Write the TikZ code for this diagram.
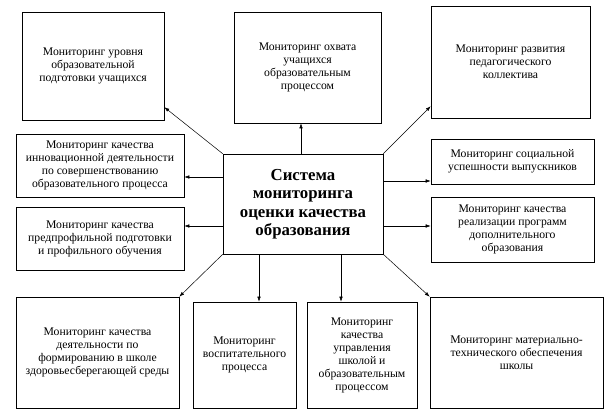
\documentclass[tikz,border=0pt]{standalone}
\usepackage{fontspec}
\setmainfont{Liberation Serif}
\usetikzlibrary{arrows.meta}

\begin{document}
\begin{tikzpicture}[
            x=1pt, y=-1pt,
            block/.style={rectangle, draw, line width=0.6pt, align=center, inner sep=2pt, font=\fontsize{11.7}{13}\selectfont},
            mainblock/.style={rectangle, draw, line width=0.6pt, align=center, font=\fontsize{16.8}{18.5}\selectfont\bfseries},
            arrow/.style={-{Latex[length=5pt,width=3.5pt]}, line width=0.5pt}
        ]
        \useasboundingbox (0,0) rectangle (609,412);
        \node[mainblock, minimum width=160pt, minimum height=100pt] (system) at (303,204) {Система\\мониторинга\\оценки качества\\образования};
        \node[block, minimum width=142pt, minimum height=108pt] (level) at (93,66) {Мониторинг уровня\\образовательной\\подготовки учащихся};
        \node[block, minimum width=147pt, minimum height=111pt] (coverage) at (307.5,67.5) {Мониторинг охвата\\учащихся\\образовательным\\процессом};
        \node[block, minimum width=159pt, minimum height=112pt] (staff) at (510.5,62) {Мониторинг развития\\педагогического\\коллектива};
        \node[block, minimum width=168pt, minimum height=63pt] (innov) at (100,165.5) {Мониторинг качества\\инновационной деятельности\\по совершенствованию\\образовательного процесса};
        \node[block, minimum width=168pt, minimum height=63pt] (profile) at (100,238.5) {Мониторинг качества\\предпрофильной подготовки\\и профильного обучения};
        \node[block, minimum width=163pt, minimum height=45pt] (graduates) at (512.5,161.5) {Мониторинг социальной\\успешности выпускников};
        \node[block, minimum width=163pt, minimum height=65pt] (extra) at (512.5,229.5) {Мониторинг качества\\реализации программ\\дополнительного\\образования};
        \node[block, minimum width=163pt, minimum height=111pt] (health) at (97.5,352.5) {Мониторинг качества\\деятельности по\\формированию в школе\\здоровьесберегающей среды};
        \node[block, minimum width=103pt, minimum height=106pt] (upbringing) at (244.5,355) {Мониторинг\\воспитательного\\процесса};
        \node[block, minimum width=110pt, minimum height=106pt] (management) at (362,355) {Мониторинг\\качества\\управления\\школой и\\образовательным\\процессом};
        \node[block, minimum width=173pt, minimum height=111pt] (material) at (516.5,352.5) {Мониторинг материально-\\технического обеспечения\\школы};
        \draw[arrow] (system.north west) -- (level.-30);
        \draw[arrow] ([xshift=-2pt]system.north) -- ([xshift=-2pt]system.north |- coverage.south);
        \draw[arrow] (system.north east) -- (staff.-151);
        \draw[arrow] ([yshift=27pt]system.west) -- ([yshift=27pt]system.west -| innov.east);
        \draw[arrow] ([yshift=-22pt]system.west) -- ([yshift=-22pt]system.west -| profile.east);
        \draw[arrow] ([yshift=23pt]system.east) -- ([yshift=23pt]system.east -| graduates.west);
        \draw[arrow] ([yshift=-22pt]system.east) -- ([yshift=-22pt]system.east -| extra.west);
        \draw[arrow] (system.south west) -- (health.north east);
        \draw[arrow] ([xshift=-44pt]system.south) -- ([xshift=-44pt]system.south |- upbringing.north);
        \draw[arrow] ([xshift=38pt]system.south) -- ([xshift=38pt]system.south |- management.north);
        \draw[arrow] (system.south east) -- (material.north west);
        \end{tikzpicture}
\end{document}
